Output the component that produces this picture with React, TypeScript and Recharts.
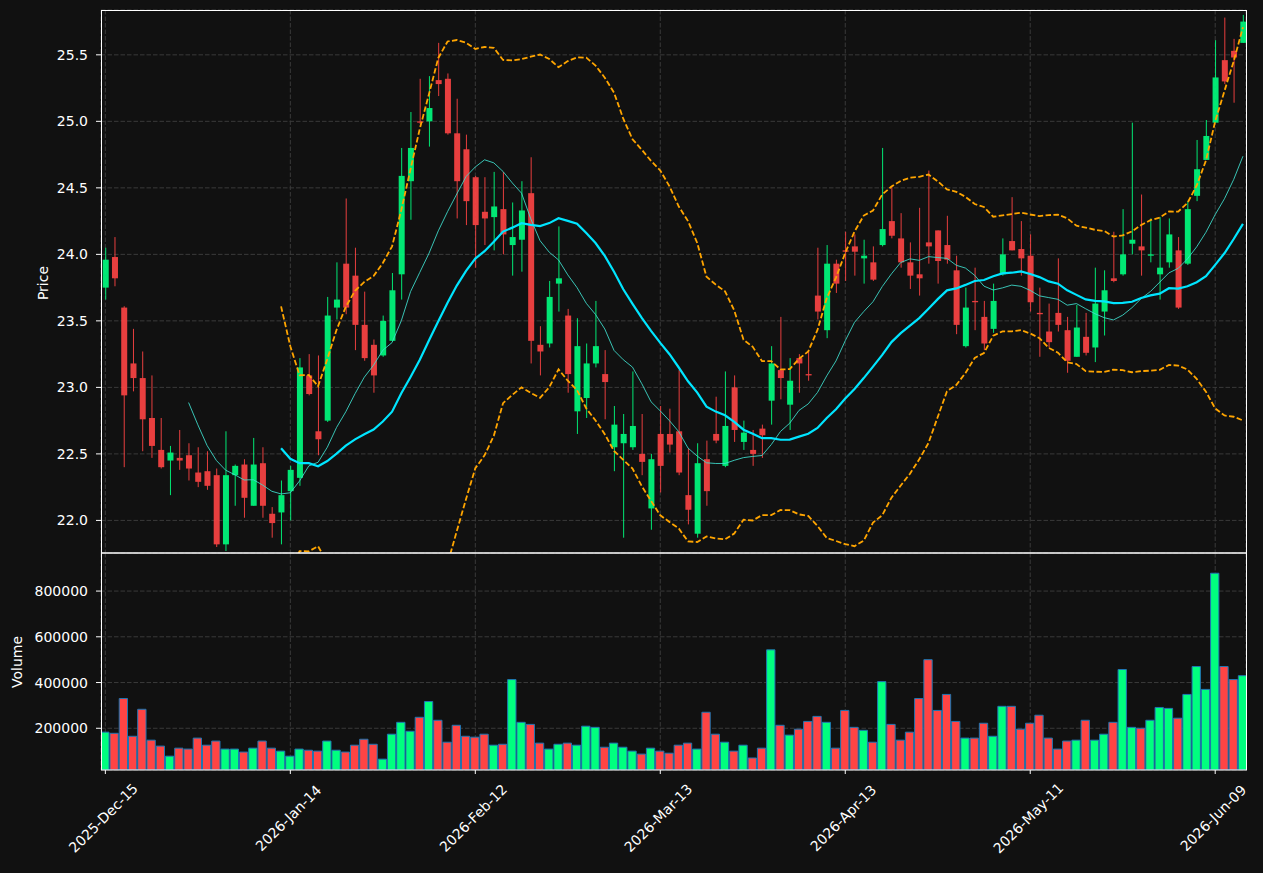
import React from "react";
import { ComposedChart, Bar, Line, XAxis, YAxis, CartesianGrid, Cell } from "recharts";

// daily candles, Dec 15 2025 .. Jun 09 2026 (124 sessions)
const opens = [
  23.75, 23.98, 23.6, 23.18, 23.07, 22.77, 22.53, 22.45, 22.47, 22.49,
  22.36, 22.37, 22.34, 21.82, 22.34, 22.42, 22.11, 22.43, 22.05, 22.06,
  22.22, 22.32, 23.09, 22.67, 22.75, 23.6, 23.93, 23.84, 23.47, 23.32,
  23.24, 23.35, 23.85, 24.55, 25.0, 25.0, 25.31, 25.32, 24.91, 24.79,
  24.58, 24.32, 24.28, 24.34, 24.07, 24.11, 24.46, 23.32, 23.33, 23.78,
  23.54, 22.82, 22.92, 23.18, 23.1, 22.55, 22.58, 22.55, 22.5, 22.09,
  22.65, 22.65, 22.67, 22.19, 21.9, 22.46, 22.65, 22.41, 23.0, 22.59,
  22.53, 22.69, 22.9, 23.13, 22.87, 23.22, 23.1, 23.69, 23.43, 23.93,
  24.03, 24.06, 23.97, 23.94, 24.07, 24.25, 24.12, 23.94, 23.85, 24.09,
  24.18, 24.07, 23.88, 23.31, 23.65, 23.53, 23.44, 23.85, 24.1, 24.04,
  23.99, 23.56, 23.42, 23.56, 23.43, 23.23, 23.38, 23.3, 23.57, 23.82,
  23.85, 24.08, 24.06, 23.99, 23.85, 23.94, 24.03, 23.93, 24.44, 24.71,
  24.99, 25.46, 25.53, 25.59,
];
const highs = [
  24.05, 24.13, 23.61, 23.44, 23.27, 23.09, 22.77, 22.56, 22.68, 22.58,
  22.55, 22.52, 22.39, 22.67, 22.42, 22.46, 22.62, 22.55, 22.1, 22.3,
  22.41, 23.22, 23.25, 23.24, 23.68, 23.94, 24.42, 24.05, 23.72, 23.36,
  23.54, 23.86, 24.8, 25.07, 25.32, 25.34, 25.59, 25.36, 25.17, 24.9,
  24.59, 24.58, 24.62, 24.62, 24.39, 24.55, 24.73, 23.46, 23.8, 24.21,
  23.59, 23.52, 23.33, 23.65, 23.28, 22.86, 22.8, 23.12, 22.8, 22.5,
  22.86, 22.84, 23.13, 22.54, 22.58, 22.6, 22.93, 23.12, 23.09, 22.75,
  22.68, 22.72, 23.31, 23.53, 23.22, 23.25, 23.28, 24.05, 24.07, 23.96,
  24.17, 24.15, 24.11, 24.06, 24.8, 24.51, 24.31, 24.09, 24.35, 24.63,
  24.18, 24.29, 23.99, 23.75, 23.9, 23.65, 23.78, 24.12, 24.43, 24.25,
  24.15, 23.75, 23.63, 23.97, 23.53, 23.62, 23.56, 23.9, 23.88, 24.17,
  24.34, 24.99, 24.45, 24.27, 24.28, 24.27, 24.13, 24.4, 24.86, 25.01,
  25.61, 25.78, 25.62, 25.8,
];
const lows = [
  23.66, 23.76, 22.4, 22.97, 22.52, 22.47, 22.39, 22.19, 22.38, 22.3,
  22.25, 22.23, 21.8, 21.77, 22.11, 22.02, 22.11, 22.02, 21.87, 21.82,
  22.0, 22.26, 22.94, 22.49, 22.74, 23.51, 23.55, 23.28, 23.2, 22.96,
  23.23, 23.35, 23.66, 24.26, 24.98, 24.81, 25.19, 24.9, 24.27, 24.22,
  23.9, 24.07, 24.03, 24.0, 23.84, 23.87, 23.18, 23.09, 23.3, 23.57,
  22.96, 22.65, 22.77, 23.15, 22.76, 22.37, 21.87, 22.53, 22.34, 21.93,
  22.21, 22.51, 22.34, 21.97, 21.87, 22.11, 22.58, 22.4, 22.59, 22.53,
  22.41, 22.47, 22.72, 22.91, 22.68, 22.96, 23.05, 23.51, 23.37, 23.71,
  23.8, 23.84, 23.78, 23.8, 24.06, 24.12, 23.9, 23.74, 23.69, 23.93,
  23.78, 23.93, 23.4, 23.3, 23.43, 23.28, 23.41, 23.84, 24.03, 23.84,
  23.57, 23.23, 23.3, 23.42, 23.11, 23.23, 23.24, 23.19, 23.39, 23.79,
  23.84, 24.0, 23.84, 23.94, 23.66, 23.9, 23.59, 23.92, 24.4, 24.71,
  24.99, 25.28, 25.14, 25.59,
];
const closes = [
  23.96, 23.82, 22.94, 23.07, 22.76, 22.56, 22.4, 22.51, 22.45, 22.39,
  22.29, 22.26, 21.82, 22.34, 22.41, 22.17, 22.42, 22.11, 21.98, 22.19,
  22.38, 23.15, 22.95, 22.61, 23.54, 23.66, 23.6, 23.47, 23.22, 23.09,
  23.5, 23.73, 24.59, 24.8, 24.99, 25.1, 25.28, 24.91, 24.55, 24.4,
  24.22, 24.27, 24.36, 24.15, 24.13, 24.33, 23.35, 23.27, 23.68, 23.82,
  23.1, 23.31, 23.18, 23.31, 23.04, 22.72, 22.65, 22.71, 22.44, 22.46,
  22.41, 22.57, 22.36, 22.08, 22.43, 22.22, 22.6, 22.71, 22.68, 22.66,
  22.5, 22.64, 23.18, 23.07, 23.05, 23.18, 23.09, 23.57, 23.93, 23.78,
  24.02, 24.02, 23.99, 23.81, 24.19, 24.14, 23.94, 23.84, 23.82, 24.06,
  23.95, 23.96, 23.47, 23.6, 23.64, 23.33, 23.65, 24.0, 24.03, 23.97,
  23.64, 23.55, 23.34, 23.47, 23.2, 23.45, 23.26, 23.63, 23.73, 23.8,
  24.0, 24.11, 24.03, 24.0, 23.9, 24.15, 23.6, 24.34, 24.64, 24.89,
  25.33, 25.3, 25.48, 25.75,
];
const volumes = [
  183000, 178000, 330000, 165000, 283000, 148000, 122000, 78000, 113000, 109000,
  157000, 126000, 144000, 109000, 109000, 96000, 113000, 144000, 113000, 100000,
  78000, 109000, 104000, 100000, 144000, 104000, 96000, 126000, 152000, 130000,
  65000, 174000, 226000, 187000, 248000, 317000, 235000, 139000, 213000, 165000,
  161000, 174000, 126000, 130000, 413000, 226000, 217000, 135000, 109000, 130000,
  135000, 126000, 209000, 204000, 117000, 135000, 117000, 100000, 87000, 113000,
  100000, 91000, 126000, 135000, 109000, 270000, 174000, 139000, 100000, 126000,
  70000, 113000, 543000, 213000, 170000, 196000, 230000, 252000, 226000, 113000,
  278000, 204000, 191000, 139000, 404000, 217000, 148000, 183000, 330000, 500000,
  278000, 348000, 230000, 157000, 157000, 222000, 165000, 296000, 296000, 196000,
  222000, 257000, 157000, 109000, 144000, 148000, 235000, 148000, 174000, 226000,
  457000, 204000, 200000, 235000, 291000, 287000, 244000, 348000, 470000, 370000,
  878000, 470000, 413000, 430000,
];

const dateTicks = [0, 20, 40, 60, 80, 100, 120];
const dateLabels = [
  "2025-Dec-15",
  "2026-Jan-14",
  "2026-Feb-12",
  "2026-Mar-13",
  "2026-Apr-13",
  "2026-May-11",
  "2026-Jun-09",
];
const priceTicks = [22, 22.5, 23, 23.5, 24, 24.5, 25, 25.5];
const volumeTicks = [200000, 400000, 600000, 800000];

const UP = "#00ff7f";
const DOWN = "#ff4444";
const FONT = "DejaVu Sans, sans-serif";

// rolling mean / population std over the closes
function rolling(n: number, fn: (w: number[]) => number) {
  return closes.map((_, i) => (i < n - 1 ? null : fn(closes.slice(i - n + 1, i + 1))));
}
const mean = (w: number[]) => w.reduce((a, b) => a + b, 0) / w.length;
const sd = (w: number[]) => {
  const m = mean(w);
  return Math.sqrt(w.reduce((a, b) => a + (b - m) * (b - m), 0) / w.length);
};
const ma10 = rolling(10, mean);
const ma20 = rolling(20, mean);
const sd20 = rolling(20, sd);

const rows = closes.map((c, i) => ({
  i,
  open: opens[i],
  high: highs[i],
  low: lows[i],
  close: c,
  range: [lows[i], highs[i]],
  ma10: ma10[i],
  ma20: ma20[i],
  upper: ma20[i] == null ? null : (ma20[i] as number) + 2 * (sd20[i] as number),
  lower: ma20[i] == null ? null : (ma20[i] as number) - 2 * (sd20[i] as number),
  volume: volumes[i],
  up: c >= opens[i],
}));

const X_DOMAIN: [number, number] = [-0.47, 123.33];

const Candle = (props: any) => {
  const { x, y, width, height, payload } = props;
  if (payload == null || height == null) return null;
  const top = Math.min(y, y + height);
  const h = Math.abs(height);
  const ppu = h / (payload.high - payload.low || 1);
  const color = payload.up ? UP : DOWN;
  const cx = x + width / 2;
  const bodyTop = top + (payload.high - Math.max(payload.open, payload.close)) * ppu;
  const bodyH = Math.max(Math.abs(payload.open - payload.close) * ppu, 1);
  return (
    <g opacity={0.9}>
      <line x1={cx} x2={cx} y1={top} y2={top + h} stroke={color} strokeWidth={1} />
      <rect x={x} y={bodyTop} width={width} height={bodyH} fill={color} />
    </g>
  );
};

const DateTick = (props: any) => {
  const { x, y, payload } = props;
  const idx = dateTicks.indexOf(payload.value);
  const cx = x - 2;
  const cy = y + 42;
  return (
    <text
      x={cx}
      y={cy}
      transform={`rotate(-45, ${cx}, ${cy})`}
      textAnchor="middle"
      dominantBaseline="central"
      fill="#ffffff"
      fontSize={14}
      fontFamily={FONT}
    >
      {dateLabels[idx]}
    </text>
  );
};

const tickStyle = { fill: "#ffffff", fontSize: 14, fontFamily: FONT };

export default function App() {
  return (
    <div
      style={{
        position: "absolute",
        left: 0,
        top: 0,
        width: 1263,
        height: 873,
        background: "#111111",
        overflow: "hidden",
      }}
    >
      <div style={{ position: "absolute", left: 0, top: 0 }}>
        <ComposedChart width={1263} height={553} data={rows} margin={{ top: 10, right: 17, bottom: 0, left: 41 }}>
          <CartesianGrid stroke="#3a3a3a" strokeDasharray="4.5 2" />
          <XAxis
            dataKey="i"
            type="number"
            domain={X_DOMAIN}
            allowDataOverflow
            ticks={dateTicks}
            hide
          />
          <YAxis
            width={60}
            type="number"
            domain={[21.755, 25.837]}
            allowDataOverflow
            ticks={priceTicks}
            tickFormatter={(v) => v.toFixed(1)}
            tick={tickStyle}
            tickSize={5}
            tickMargin={8}
            tickLine={{ stroke: "#ffffff" }}
            axisLine={false}
          />
          <Bar dataKey="range" barSize={6} shape={Candle} isAnimationActive={false} />
          <Line dataKey="ma10" stroke="#40e0d0" strokeOpacity={0.85} strokeWidth={1} dot={false} isAnimationActive={false} />
          <Line dataKey="ma20" stroke="#00e5ff" strokeWidth={2.2} dot={false} isAnimationActive={false} />
          <Line dataKey="upper" stroke="#ffa500" strokeWidth={1.8} strokeDasharray="5.5 2.4" dot={false} isAnimationActive={false} />
          <Line dataKey="lower" stroke="#ffa500" strokeWidth={1.8} strokeDasharray="5.5 2.4" dot={false} isAnimationActive={false} />
        </ComposedChart>
      </div>
      <div style={{ position: "absolute", left: 0, top: 553 }}>
        <ComposedChart width={1263} height={320} data={rows} margin={{ top: 0, right: 17, bottom: 0, left: 41 }}>
          <CartesianGrid stroke="#3a3a3a" strokeDasharray="4.5 2" />
          <XAxis
            dataKey="i"
            type="number"
            domain={X_DOMAIN}
            allowDataOverflow
            ticks={dateTicks}
            height={103}
            tick={<DateTick />}
            tickSize={4}
            tickLine={{ stroke: "#ffffff" }}
            axisLine={false}
            interval={0}
          />
          <YAxis
            width={60}
            type="number"
            domain={[17500, 966500]}
            allowDataOverflow
            ticks={volumeTicks}
            tick={tickStyle}
            tickSize={5}
            tickMargin={8}
            tickLine={{ stroke: "#ffffff" }}
            axisLine={false}
          />
          <Bar dataKey="volume" barSize={8.3} stroke="#1f77b4" strokeWidth={1} isAnimationActive={false}>
            {rows.map((r) => (
              <Cell key={r.i} fill={r.up ? UP : DOWN} />
            ))}
          </Bar>
        </ComposedChart>
      </div>
      <svg width={1263} height={873} style={{ position: "absolute", left: 0, top: 0, pointerEvents: "none" }}>
        <rect x={101.5} y={10.5} width={1145} height={542.5} fill="none" stroke="#ffffff" strokeWidth={1} />
        <rect x={101.5} y={553} width={1145} height={217} fill="none" stroke="#ffffff" strokeWidth={1} />
        <text x={43} y={283} transform="rotate(-90, 43, 283)" textAnchor="middle" dominantBaseline="central" fill="#ffffff" fontSize={14} fontFamily={FONT}>
          Price
        </text>
        <text x={17} y={662} transform="rotate(-90, 17, 662)" textAnchor="middle" dominantBaseline="central" fill="#ffffff" fontSize={14} fontFamily={FONT}>
          Volume
        </text>
      </svg>
    </div>
  );
}
